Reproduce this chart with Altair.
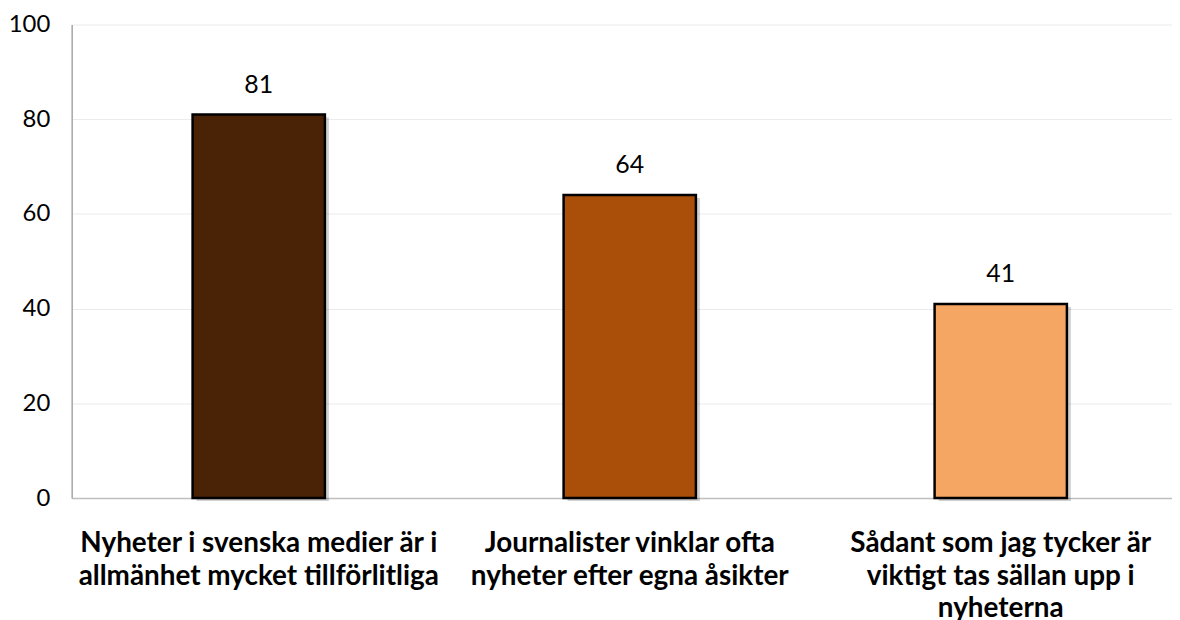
import altair as alt
import pandas as pd

categories = [
    "Nyheter i svenska medier är i\nallmänhet mycket tillförlitliga",
    "Journalister vinklar ofta\nnyheter efter egna åsikter",
    "Sådant som jag tycker är\nviktigt tas sällan upp i\nnyheterna",
]
values = [81, 64, 41]
colors = ["#4A2205", "#A94F0A", "#F5A663"]

df = pd.DataFrame({"cat": categories, "val": values, "col": colors})

FONT = "Lato"

x = alt.X("cat:N", sort=None, title=None,
          scale=alt.Scale(paddingInner=0.6434, paddingOuter=0.3046, align=0.535),
          axis=alt.Axis(labelAngle=0, labelExpr="split(datum.label, '\\n')",
                        labelFontWeight="bold", labelFontSize=28, labelFont=FONT,
                        labelColor="#000000", labelLineHeight=32.5, labelPadding=32,
                        ticks=False, domainColor="#BFBFBF", domainWidth=1.5,
                        labelLimit=500))
y = alt.Y("val:Q", title=None,
          scale=alt.Scale(domain=[0, 100]),
          axis=alt.Axis(values=[0, 20, 40, 60, 80, 100], ticks=False,
                        labelFontSize=24, labelFont=FONT, labelColor="#000000",
                        labelPadding=22, domainColor="#A6A6A6", domainWidth=1.5,
                        gridColor="#EBEBEB", gridWidth=1))

base = alt.Chart(df)

shadow = base.mark_bar(color="#000000", opacity=0.18, xOffset=4, yOffset=3).encode(x=x, y=y)
bars = base.mark_bar(stroke="#000000", strokeWidth=2.5).encode(
    x=x, y=y, color=alt.Color("col:N", scale=None))
text = base.mark_text(baseline="bottom", dy=-17, fontSize=25, font=FONT, color="#000000").encode(
    x=x, y=y, text="val:Q")

chart = alt.layer(shadow, bars, text).properties(
    width=1106, height=476,
    padding={"top": 3, "left": 0, "right": 0, "bottom": 0},
).configure_view(stroke=None)

chart.save("out.html", embed_options={"renderer": "svg", "actions": False})
